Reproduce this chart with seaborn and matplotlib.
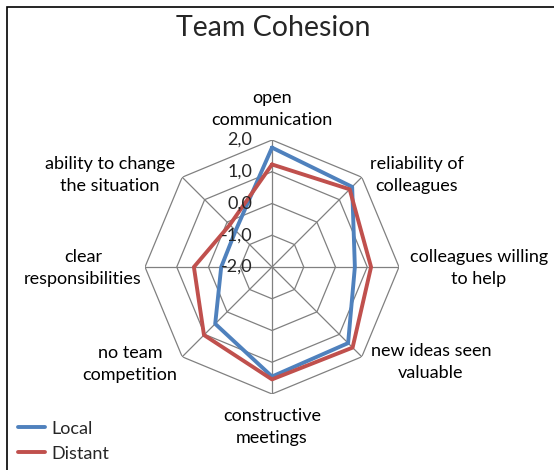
import numpy as np
import pandas as pd
import matplotlib
matplotlib.use("Agg")
import matplotlib.pyplot as plt
import seaborn as sns
from matplotlib.patches import Rectangle
from matplotlib.lines import Line2D

categories = ["open\ncommunication", "reliability of\ncolleagues", "colleagues willing\nto help",
              "new ideas seen\nvaluable", "constructive\nmeetings", "no team\ncompetition",
              "clear\nresponsibilities", "ability to change\nthe situation"]
local_vals = [1.76, 1.57, 0.61, 1.39, 1.45, 0.53, -0.40, -0.38]
distant_vals = [1.23, 1.46, 1.12, 1.59, 1.54, 1.03, 0.46, -0.12]
ring_values = [-2.0, -1.0, 0.0, 1.0, 2.0]
ring_labels = ["-2,0", "-1,0", "0,0", "1,0", "2,0"]
series_names = ["Local", "Distant"]
colors = ["#4F81BD", "#C0504D"]
title = "Team Cohesion"

sns.set_style("white")
plt.rcParams['font.family'] = ['Lato', 'DejaVu Sans']

n = len(categories)
angles = np.linspace(0, 2 * np.pi, n, endpoint=False)
angles_closed = np.append(angles, 2 * np.pi)

rows = []
for name, vals in zip(series_names, [local_vals, distant_vals]):
    for a, v in zip(angles_closed, list(vals) + [vals[0]]):
        rows.append({"theta": a, "value": v, "series": name})
df = pd.DataFrame(rows)

fig = plt.figure(figsize=(5.54, 4.70), dpi=100)
W, H = 554, 470
cx, cy, R = 272, 267, 127
ax = fig.add_axes([(cx - R) / W, (H - cy - R) / H, 2 * R / W, 2 * R / H], projection="polar")
ax.set_theta_offset(np.pi / 2)
ax.set_theta_direction(-1)
ax.set_ylim(-2, 2)
ax.grid(False)
ax.set_xticks([])
ax.set_yticks([])
ax.spines["polar"].set_visible(False)
ax.patch.set_alpha(0)

grid_c = "#808080"
for rv in ring_values[1:]:
    ax.plot(angles_closed, [rv] * (n + 1), color=grid_c, lw=0.9, zorder=1)
for a in angles:
    ax.plot([a, a], [-2, 2], color=grid_c, lw=0.9, zorder=1)

sns.lineplot(data=df, x="theta", y="value", hue="series", palette=colors,
             sort=False, linewidth=2.8, legend=False, ax=ax, zorder=3)
ax.set_xlabel("")
ax.set_ylabel("")

fs = 13
# category labels (figure pixel positions)
label_pos = [(272, 109), (417, 175), (479, 268), (431, 362), (272, 427), (130, 364), (83, 268), (110, 175)]
for lab, (px, py) in zip(categories, label_pos):
    fig.text(px / W, 1 - py / H, lab, ha="center", va="center", fontsize=fs,
             linespacing=1.4, color="black")

for rv, rl in zip(ring_values, ring_labels):
    ax.annotate(rl, xy=(0, rv), xycoords="data", xytext=(-20, 0), textcoords="offset pixels",
                ha="right", va="center", fontsize=fs, zorder=5)

fig.text(273 / W, 1 - 28 / H, title, ha="center", va="center", fontsize=20.5)

# legend
handles = [Line2D([], [], color=c, lw=2.8) for c in colors]
fig.legend(handles, series_names, loc="lower left", bbox_to_anchor=(11 / W, 1 / H),
           frameon=False, fontsize=fs, handlelength=1.5, handletextpad=0.35,
           labelspacing=0.5, borderaxespad=0.0)

# outer border (right/bottom beyond image)
fig.patches.append(Rectangle((7 / W, -0.1), 1.2, (1 - 6.5 / H) + 0.1, transform=fig.transFigure,
                             fill=False, edgecolor="black", lw=1.2))

fig.savefig("out.png", dpi=100)
